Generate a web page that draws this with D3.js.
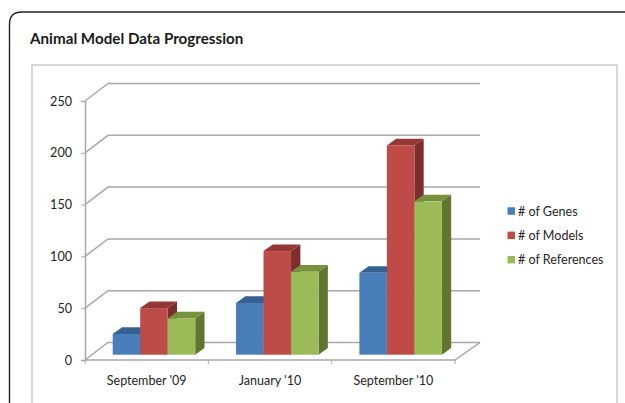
<!DOCTYPE html>
<html>
<head>
<meta charset="utf-8">
<script src="https://cdn.jsdelivr.net/npm/d3@7"></script>
<style>
  html, body { margin: 0; padding: 0; background: #fff; overflow: hidden; }
  text { font-family: Lato, sans-serif; fill: #262626; }
</style>
</head>
<body>
<svg id="chart" width="625" height="403"></svg>
<script>
const categories = ["September '09", "January '10", "September '10"];
const seriesNames = ["# of Genes", "# of Models", "# of References"];
const genes = [20, 50, 79];
const models = [45, 100, 202];
const references = [35, 80, 148];
const yTicks = [0, 50, 100, 150, 200, 250];

const seriesValues = [genes, models, references];
const front = ["#4a7ebb", "#be4b48", "#9bbb59"];
const topFace = ["#376092", "#943634", "#76923c"];
const sideFace = ["#2c4f78", "#7c2e2c", "#5f7530"];

const svg = d3.select("#chart");
const width = 625, height = 403;

// 3d offset of the back wall and of the bars
const wallDx = 23, wallDy = -17.5;
const barDx = 9.3, barDy = -6.7;
const barShiftX = 7.3, barShiftY = -5.3;

const y = d3.scaleLinear().domain([0, 250]).range([360, 101]);
const x0 = d3.scaleBand().domain(categories).range([85, 455])
  .paddingInner(0.331).paddingOuter(0.1655);
const x1 = d3.scaleBand().domain(seriesNames).range([0, x0.bandwidth()]);
const xLabels = d3.scaleBand().domain(categories).range([85, 455]);

// Outer frame, runs off the right and bottom of the picture
svg.append("path")
  .attr("d", "M9.5,410 V24 Q9.5,12 22,12 H630")
  .attr("fill", "none")
  .attr("stroke", "#222")
  .attr("stroke-width", 1.4);

svg.append("text")
  .attr("x", 30)
  .attr("y", 44)
  .style("font-size", "15.2px")
  .style("font-weight", "bold")
  .style("fill", "#1a1a1a")
  .text("Animal Model Data Progression");

// Chart area border
svg.append("rect")
  .attr("x", 32)
  .attr("y", 65)
  .attr("width", 585)
  .attr("height", 360)
  .attr("fill", "#fff")
  .attr("stroke", "#bdbdbd")
  .attr("stroke-width", 1.2);

const grid = svg.append("g").attr("class", "grid")
  .attr("fill", "none")
  .attr("stroke", "#a8a8a8")
  .attr("stroke-width", 1.5);

grid.selectAll("path")
  .data(yTicks)
  .enter()
  .append("path")
  .attr("d", d => {
    const py = y(d);
    return `M${x0.range()[0]},${py} l${wallDx},${wallDy} H480`;
  });

// Floor
grid.append("path")
  .attr("d", `M480,${y(0) + wallDy} L${x0.range()[1]},${y(0)} H${x0.range()[0]}`);

// Value axis
const yAxis = svg.append("g")
  .attr("transform", "translate(85,0)")
  .call(d3.axisLeft(y).tickValues(yTicks).tickSize(4).tickPadding(9));
yAxis.select(".domain").attr("stroke", "#a8a8a8").attr("stroke-width", 1.5);
yAxis.selectAll(".tick line").attr("stroke", "#a8a8a8");
yAxis.selectAll("text").style("font-size", "12.6px").style("font-family", "Lato, sans-serif");

// Category axis
const xAxis = svg.append("g")
  .attr("transform", "translate(0,360)")
  .call(d3.axisBottom(xLabels).tickSize(0).tickPadding(16));
xAxis.select(".domain").remove();
xAxis.selectAll("text").style("font-size", "12.5px").style("font-family", "Lato, sans-serif");

svg.append("g")
  .selectAll("line")
  .data(d3.range(4))
  .enter()
  .append("line")
  .attr("x1", i => 85 + i * x0.step())
  .attr("x2", i => 85 + i * x0.step())
  .attr("y1", 360)
  .attr("y2", 364)
  .attr("stroke", "#a8a8a8");

// Bars, left to right so later ones cover the faces behind them
const bars = [];
categories.forEach((c, ci) => {
  seriesNames.forEach((s, si) => {
    bars.push({ category: c, series: s, si, value: seriesValues[si][ci] });
  });
});

const bar = svg.append("g").attr("class", "bars")
  .selectAll("g")
  .data(bars)
  .enter()
  .append("g")
  .attr("transform", d => `translate(${x0(d.category) + x1(d.series) + barShiftX},${barShiftY})`);

const w = x1.bandwidth();

bar.append("path")
  .attr("fill", d => sideFace[d.si])
  .attr("d", d => `M${w},${y(d.value)} l${barDx},${barDy} V${y(0) + barDy} l${-barDx},${-barDy} Z`);

bar.append("path")
  .attr("fill", d => topFace[d.si])
  .attr("d", d => `M0,${y(d.value)} l${barDx},${barDy} h${w} l${-barDx},${-barDy} Z`);

bar.append("rect")
  .attr("x", 0)
  .attr("y", d => y(d.value))
  .attr("width", w)
  .attr("height", d => y(0) - y(d.value))
  .attr("fill", d => front[d.si]);

// Legend
const legend = svg.append("g").attr("class", "legend")
  .selectAll("g")
  .data(seriesNames)
  .enter()
  .append("g")
  .attr("transform", (d, i) => `translate(507.5,${211 + i * 24.3})`);

legend.append("rect")
  .attr("y", -3.7)
  .attr("width", 7.5)
  .attr("height", 7.5)
  .attr("fill", (d, i) => front[i]);

legend.append("text")
  .attr("x", 10.5)
  .attr("y", 4.5)
  .style("font-size", "12.55px")
  .text(d => d);
</script>
</body>
</html>
